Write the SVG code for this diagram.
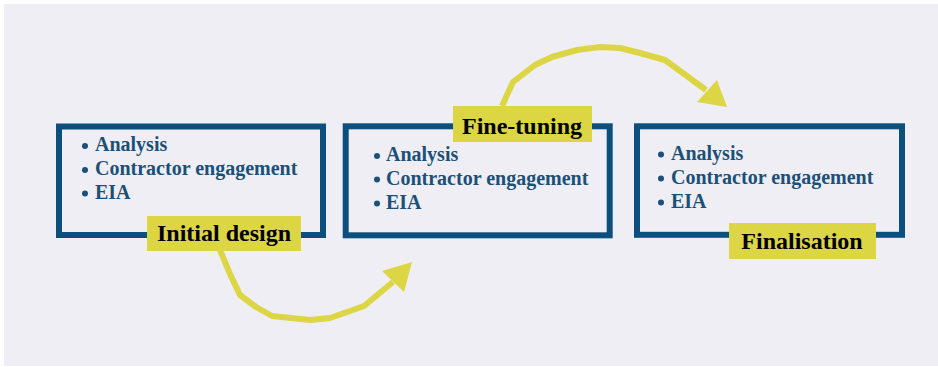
<svg xmlns="http://www.w3.org/2000/svg" width="938" height="367" viewBox="0 0 938 367">
<style>
.box{fill:none;stroke:#0c4f7c;stroke-width:6}
.lab{fill:#dcd544}
.lt{font-family:"Liberation Serif","Times New Roman",serif;font-weight:bold;font-size:24px;fill:#000;text-anchor:middle}
.bt{font-family:"Liberation Serif","Times New Roman",serif;font-weight:bold;font-size:20px;fill:#1b5078}
.bd{fill:#1b5078}
.arr{fill:none;stroke:#dcd544;stroke-width:6;stroke-linejoin:round}
.head{fill:#dcd544}
</style>
<rect x="0" y="0" width="938" height="367" fill="#ffffff"/>
<rect x="4" y="4" width="934" height="362" fill="#efeef5"/>
<g id="connectors">
<path class="arr" d="M220,250 L230,274 L240,295 L256,307 L272,316 L310,320 L330,318 L364,306 L393,282"/>
<polygon class="head" points="412,262 382,271 404,292"/>
<path class="arr" d="M502,106 L513,82 L535,65 L552,57 L577,50 L600,47 L620,48 L640,53 L665,60 L706,90"/>
<polygon class="head" points="727,107 697,102 717,80"/>
</g>
<g id="initial-design">
<rect class="box" x="59" y="126.5" width="264" height="108.5"/>
<circle class="bd" cx="85" cy="146" r="3"/>
<text class="bt" x="95" y="151">Analysis</text>
<circle class="bd" cx="85" cy="170" r="3"/>
<text class="bt" x="95" y="175">Contractor engagement</text>
<circle class="bd" cx="85" cy="193.5" r="3"/>
<text class="bt" x="95" y="198.5">EIA</text>
<rect class="lab" x="147" y="216" width="154" height="35"/>
<text class="lt" x="224" y="241">Initial design</text>
</g>
<g id="fine-tuning">
<rect class="box" x="345.7" y="126.3" width="264" height="109"/>
<circle class="bd" cx="377" cy="156" r="3"/>
<text class="bt" x="386" y="161">Analysis</text>
<circle class="bd" cx="377" cy="179.5" r="3"/>
<text class="bt" x="386" y="184.5">Contractor engagement</text>
<circle class="bd" cx="377" cy="203.5" r="3"/>
<text class="bt" x="386" y="208.5">EIA</text>
<rect class="lab" x="453" y="106" width="139" height="36"/>
<text class="lt" x="522" y="134">Fine-tuning</text>
</g>
<g id="finalisation">
<rect class="box" x="637" y="126.3" width="265" height="108.5"/>
<circle class="bd" cx="661" cy="154.5" r="3"/>
<text class="bt" x="671" y="159.5">Analysis</text>
<circle class="bd" cx="661" cy="178.5" r="3"/>
<text class="bt" x="671" y="183.5">Contractor engagement</text>
<circle class="bd" cx="661" cy="202.5" r="3"/>
<text class="bt" x="671" y="207.5">EIA</text>
<rect class="lab" x="729" y="223" width="147" height="36"/>
<text class="lt" x="802" y="249">Finalisation</text>
</g>
</svg>
